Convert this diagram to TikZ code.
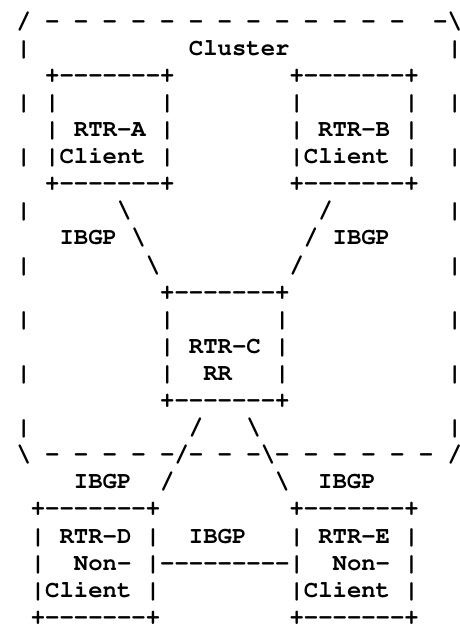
\documentclass[tikz,border=0pt]{standalone}
\usepackage[T1]{fontenc}
\usepackage{tikz}

\tikzset{ascii/.style={anchor=base west, inner sep=0pt,
  font=\fontencoding{T1}\fontfamily{pcr}\fontseries{b}\fontsize{23.95}{27.1}\selectfont}}

\begin{document}
\begin{tikzpicture}[x=1pt, y=1pt]
\useasboundingbox (0,0) rectangle (459,624);
\node[ascii] (L1) at (16.3,595.8) {/~-~-~-~-~-~-~-~-~-~-~-~-~-~~-\textbackslash};
\node[ascii] (L2) at (16.3,568.7) {|~~~~~~~~~~~Cluster~~~~~~~~~~~|};
\node[ascii] (L3) at (16.3,541.6) {~~+-{}-{}-{}-{}-{}-{}-+~~~~~~~~+-{}-{}-{}-{}-{}-{}-+};
\node[ascii] (L4) at (16.3,514.5) {|~|~~~~~~~|~~~~~~~~|~~~~~~~|~~|};
\node[ascii] (L5) at (16.3,487.4) {~~|~RTR-A~|~~~~~~~~|~RTR-B~|};
\node[ascii] (L6) at (16.3,460.3) {|~|Client~|~~~~~~~~|Client~|~~|};
\node[ascii] (L7) at (16.3,433.2) {~~+-{}-{}-{}-{}-{}-{}-+~~~~~~~~+-{}-{}-{}-{}-{}-{}-+};
\node[ascii] (L8) at (16.3,406.1) {|~~~~~~\textbackslash~~~~~~~~~~~~~/~~~~~~~~|};
\node[ascii] (L9) at (16.3,379.0) {~~~IBGP~\textbackslash~~~~~~~~~~~/~IBGP};
\node[ascii] (L10) at (16.3,351.9) {|~~~~~~~~\textbackslash~~~~~~~~~/~~~~~~~~~~|};
\node[ascii] (L11) at (16.3,324.8) {~~~~~~~~~~+-{}-{}-{}-{}-{}-{}-+};
\node[ascii] (L12) at (16.3,297.7) {|~~~~~~~~~|~~~~~~~|~~~~~~~~~~~|};
\node[ascii] (L13) at (16.3,270.6) {~~~~~~~~~~|~RTR-C~|};
\node[ascii] (L14) at (16.3,243.5) {|~~~~~~~~~|~~RR~~~|~~~~~~~~~~~|};
\node[ascii] (L15) at (16.3,216.4) {~~~~~~~~~~+-{}-{}-{}-{}-{}-{}-+};
\node[ascii] (L16) at (16.3,189.3) {|~~~~~~~~~~~/~~~\textbackslash~~~~~~~~~~~~~|};
\node[ascii] (L17) at (16.3,162.2) {\textbackslash~-~-~-~-~-/-~-~-\textbackslash-~-~-~-~-~-~/};
\node[ascii] (L18) at (16.3,135.1) {~~~~IBGP~~/~~~~~~~\textbackslash~~IBGP};
\node[ascii] (L19) at (16.3,108.0) {~+-{}-{}-{}-{}-{}-{}-+~~~~~~~~~+-{}-{}-{}-{}-{}-{}-+};
\node[ascii] (L20) at (16.3,80.9) {~|~RTR-D~|~~IBGP~~~|~RTR-E~|};
\node[ascii] (L21) at (16.3,53.8) {~|~~Non-~|-{}-{}-{}-{}-{}-{}-{}-{}-|~~Non-~|};
\node[ascii] (L22) at (16.3,26.7) {~|Client~|~~~~~~~~~|Client~|};
\node[ascii] (L23) at (16.3,-0.4) {~+-{}-{}-{}-{}-{}-{}-+~~~~~~~~~+-{}-{}-{}-{}-{}-{}-+};
\end{tikzpicture}
\end{document}
